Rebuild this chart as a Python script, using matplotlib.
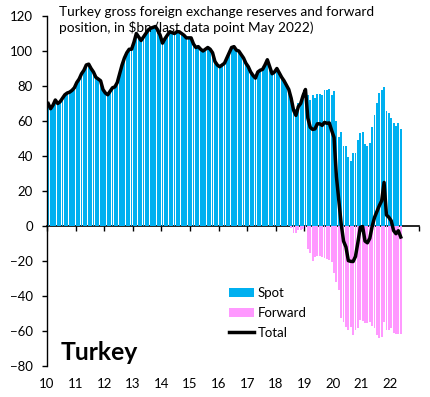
import matplotlib
matplotlib.use("Agg")
import matplotlib.pyplot as plt
from matplotlib.patches import Patch
from matplotlib.lines import Line2D
import numpy as np

plt.rcParams['font.family'] = ['Lato', 'DejaVu Sans']

# Monthly data, Jan 2010 .. May 2022 ($bn)
spot = [
    70, 67, 69, 72, 70, 71, 73, 75, 76, 76.5, 77.5, 79,            # 2010
    82, 84, 87, 89, 92, 92.5, 90, 88, 85, 84, 83, 78,              # 2011
    76, 75, 77, 79, 79.5, 82, 87, 92, 96, 99, 101, 101,            # 2012
    105, 110, 108, 106, 108, 110, 112, 113, 113.5, 114, 112, 109,  # 2013
    104.5, 107, 109, 111, 110.5, 110, 111, 111, 110, 109, 107.5, 107.5,  # 2014
    107.5, 104, 102, 102.5, 101, 100, 101, 102, 101, 99, 94, 92,   # 2015
    91, 92, 93, 96, 99, 102, 102.5, 100.5, 100, 98, 96, 93,        # 2016
    91, 88, 86, 84.5, 88, 89, 89.5, 92, 95, 91, 87, 88,            # 2017
    90, 87.5, 85, 83, 80.5, 78, 74, 70, 67, 70.5, 72, 76,          # 2018
    79, 75, 72, 75, 73, 75.4, 75.4, 75, 77.7, 77.7, 78.3, 75,      # 2019
    77.3, 60, 51, 54, 46, 45.5, 39.6, 37.3, 42, 42, 49, 53,        # 2020
    54, 47, 46, 47.6, 56.8, 63.4, 70.5, 75.8, 77.7, 79.6, 65.7, 64.4,  # 2021
    61.5, 58.7, 57.3, 59, 55.4,                                    # 2022
]
forward = [0] * 102 + [
    -1, -3.8, -3.8, -2.3, -2, -1.5,                                # 2018 Jul-Dec
    -1, -13.3, -15.6, -19.8, -17.5, -17, -17, -17.5, -18.5, -19, -19.4, -20.4,  # 2019
    -26.7, -31.8, -36.6, -52.8, -54.7, -57.5, -59.4, -57.5, -62.3, -59.4, -58.5, -53.7,  # 2020
    -54.3, -55.6, -55.6, -54.7, -57, -58.5, -62.3, -64.2, -63.3, -54.7, -59.4, -59.4,  # 2021
    -58.5, -61.3, -61.7, -61.7, -61.7,                             # 2022
]
year_labels = ['10', '11', '12', '13', '14', '15', '16', '17', '18', '19', '20', '21', '22']
title = "Turkey gross foreign exchange reserves and forward\nposition, in $bn (last data point May 2022)"

spot = np.array(spot, dtype=float)
forward = np.array(forward, dtype=float)
total = spot + forward
n = len(spot)
xs = 2010 + (np.arange(n) + 0.5) / 12.0

blue = '#00B0F0'
pink = '#FF99FF'

fig = plt.figure(figsize=(4.31, 3.97), dpi=100)
ax = fig.add_axes([47 / 431, 31 / 397, 371.6 / 431, 350 / 397])

ax.bar(xs, spot, width=0.78 / 12, color=blue, linewidth=0, antialiased=False, zorder=2)
ax.bar(xs, forward, width=0.78 / 12, color=pink, linewidth=0, antialiased=False, zorder=2)
ax.plot(xs, total, color='black', lw=2.5, solid_joinstyle='round', zorder=4)

ax.set_xlim(2010, 2023)
ax.set_ylim(-80, 120)
ax.set_yticks(np.arange(-80, 121, 20))
ax.tick_params(axis='y', direction='out', length=3.6, width=1, pad=6.5, labelsize=9.5, colors='black')

ax.set_xticks(np.arange(2010, 2010 + len(year_labels)))
ax.set_xticklabels(year_labels)
ax.tick_params(axis='x', length=0, pad=9, labelsize=9.5)

for s in ['top', 'right', 'bottom']:
    ax.spines[s].set_visible(False)
ax.spines['left'].set_linewidth(1)

sec = ax.secondary_xaxis(0.4)
sec.set_xticks(np.arange(2010, 2024))
sec.set_xticklabels([])
sec.tick_params(axis='x', direction='out', length=3.6, width=1)
sec.spines['bottom'].set_linewidth(1.2)
sec.spines['bottom'].set_zorder(5)

fig.text(59 / 431, 1 - 6 / 397, title, ha='left', va='top', fontsize=9.8, linespacing=1.3)
fig.text(61 / 431, 1 - 360 / 397, 'Turkey', ha='left', va='baseline', fontsize=17.8, fontweight='bold')

handles = [Patch(facecolor=blue, edgecolor='none'),
           Patch(facecolor=pink, edgecolor='none'),
           Line2D([0], [0], color='black', lw=2.5)]
leg = fig.legend(handles, ['Spot', 'Forward', 'Total'], loc='upper left',
                 bbox_to_anchor=(229 / 431, 1 - 287 / 397), frameon=False,
                 fontsize=9.5, borderpad=0, borderaxespad=0, handlelength=1.9,
                 handleheight=0.7, handletextpad=0.3, labelspacing=0.6)

fig.savefig('out.png', dpi=100)
